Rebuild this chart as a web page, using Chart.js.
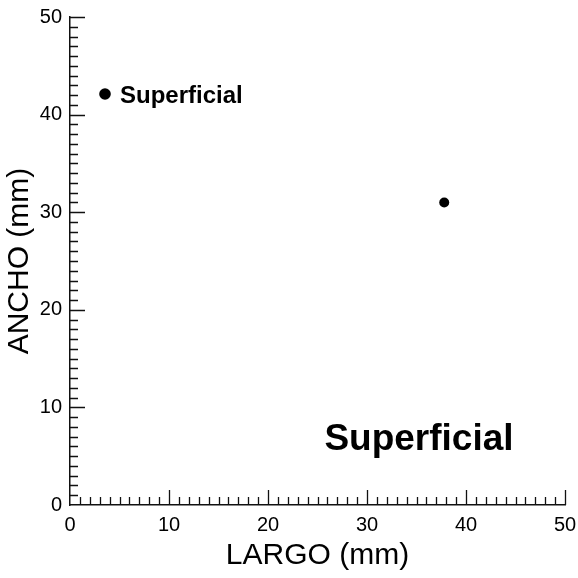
<!DOCTYPE html>
<html>
<head>
<meta charset="utf-8">
<script src="https://cdn.jsdelivr.net/npm/chart.js@4.4.1/dist/chart.umd.min.js"></script>
<style>
  html, body { margin: 0; padding: 0; background: #fff; }
  #wrap { width: 578px; height: 578px; }
</style>
</head>
<body>
<div id="wrap"><canvas id="largoAncho" width="578" height="578"></canvas></div>
<script>
// data
const seriesName = 'Superficial';
const largo = [37.8];   // mm
const ancho = [31.0];   // mm
const xTicks = [0, 10, 20, 30, 40, 50];
const yTicks = [0, 10, 20, 30, 40, 50];

const FONT = "'Liberation Sans', Arial, Helvetica, sans-serif";
const INK = '#111';

// inward ticks, one every mm, long ones every 10
const innerTicks = {
    id: 'innerTicks',
    afterDraw(chart) {
        const ctx = chart.ctx;
        const xs = chart.scales.x, ys = chart.scales.y;
        const area = chart.chartArea;
        ctx.save();
        ctx.strokeStyle = INK;
        ctx.lineWidth = 1.3;
        ctx.beginPath();
        for (let v = xs.min; v <= xs.max; v++) {
            const px = Math.round(xs.getPixelForValue(v)) + 0.5;
            const len = v % 10 === 0 ? 15 : 8;
            if (v === xs.min) continue;
            ctx.moveTo(px, area.bottom);
            ctx.lineTo(px, area.bottom - len);
        }
        for (let v = ys.min; v <= ys.max; v++) {
            const py = Math.round(ys.getPixelForValue(v)) + 0.5;
            const len = v % 10 === 0 ? 15 : 8;
            if (v === ys.min) continue;
            ctx.moveTo(area.left, py);
            ctx.lineTo(area.left + len, py);
        }
        ctx.stroke();
        ctx.restore();
    }
};

// legend entry in the upper left + big label at the lower right
const labels = {
    id: 'labels',
    afterDraw(chart) {
        const ctx = chart.ctx;
        const area = chart.chartArea;
        const ds = chart.data.datasets[0];
        ctx.save();
        ctx.fillStyle = '#000';
        // legend marker
        const lx = area.left + 35, ly = area.top + 77;
        ctx.beginPath();
        ctx.arc(lx, ly, 5.8, 0, Math.PI * 2);
        ctx.fill();
        ctx.font = 'bold 24px ' + FONT;
        ctx.textBaseline = 'middle';
        ctx.textAlign = 'left';
        ctx.fillText(ds.label, lx + 15, ly + 2);
        // big label
        ctx.font = 'bold 37px ' + FONT;
        ctx.textAlign = 'center';
        ctx.fillText(ds.label, area.left + area.width * 0.705, area.top + area.height * 0.867);
        ctx.restore();
    }
};

const ctx = document.getElementById('largoAncho').getContext('2d');
const chart = new Chart(ctx, {
    type: 'scatter',
    data: {
        datasets: [{
            label: seriesName,
            data: largo.map((x, i) => ({ x: x, y: ancho[i] })),
            pointRadius: 5,
            pointHoverRadius: 5,
            pointBackgroundColor: '#000',
            pointBorderColor: '#000',
            pointBorderWidth: 0,
            showLine: false
        }]
    },
    options: {
        responsive: false,
        animation: false,
        events: [],
        layout: { padding: { left: 0, right: 13, top: 17, bottom: 0 } },
        plugins: {
            legend: { display: false },
            tooltip: { enabled: false }
        },
        scales: {
            x: {
                type: 'linear',
                min: 0,
                max: 50,
                afterFit: (s) => { s.height = 73; s.paddingLeft = 0; s.paddingRight = 0; },
                afterBuildTicks: (s) => { s.ticks = xTicks.map(v => ({ value: v })); },
                grid: { drawOnChartArea: false, drawTicks: false },
                border: { display: true, color: INK, width: 1.5 },
                ticks: { color: '#000', padding: 8, font: { family: FONT, size: 20 } },
                title: {
                    display: true,
                    text: 'LARGO (mm)',
                    color: '#000',
                    font: { family: FONT, size: 30 },
                    padding: { top: 0, bottom: 4 }
                }
            },
            y: {
                type: 'linear',
                min: 0,
                max: 50,
                afterFit: (s) => { s.width = 70; s.paddingTop = 0; s.paddingBottom = 0; },
                afterBuildTicks: (s) => { s.ticks = yTicks.map(v => ({ value: v })); },
                grid: { drawOnChartArea: false, drawTicks: false },
                border: { display: true, color: INK, width: 1.5 },
                ticks: { color: '#000', padding: 8, font: { family: FONT, size: 20 } },
                title: {
                    display: true,
                    text: 'ANCHO (mm)',
                    color: '#000',
                    font: { family: FONT, size: 30 },
                    padding: { top: 2, bottom: 0 }
                }
            }
        }
    },
    plugins: [innerTicks, labels]
});
</script>
</body>
</html>
